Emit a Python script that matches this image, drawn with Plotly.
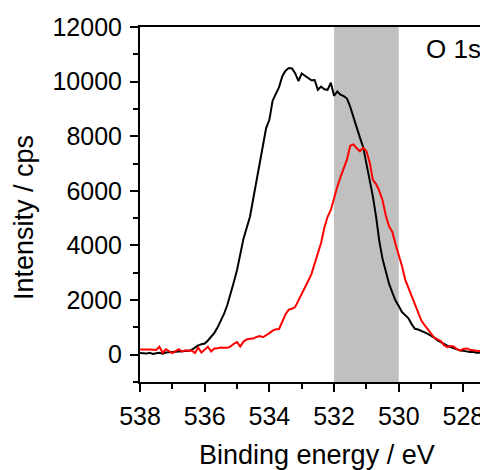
import numpy as np
import plotly.graph_objects as go

# Binding energy grid (eV), 0.1 eV step from 538.0 down to 527.3
E_START = 538.0
E_STEP = 0.1
N_POINTS = 108
energy = [round(E_START - E_STEP * i, 1) for i in range(N_POINTS)]

black_counts = [
    60, 60, 40, 70, 30, 50, 70, 40, 80, 90,
    100, 90, 110, 120, 130, 140, 180, 260, 340, 380,
    410, 520, 650, 800, 1000, 1250, 1500, 1820, 2200, 2650,
    3100, 3650, 4250, 4650, 5050, 5700, 6350, 7100, 7750, 8300,
    8600, 9300, 9550, 9800, 10200, 10400, 10500, 10480, 10300, 10020,
    10300, 10220, 10150, 10050, 10060, 9700, 9820, 9720, 9700, 9960,
    9480, 9640, 9520, 9470, 9380, 9080, 8700, 8300, 7950, 7600,
    7000, 6400, 5800, 5050, 4150, 3500, 3000, 2600, 2280, 1980,
    1780, 1560, 1450, 1330, 1120, 950, 920, 880, 820, 760,
    700, 620, 520, 450, 370, 330, 280, 230, 170, 150,
    140, 120, 100, 110, 70, 80, 40, 60,
]

red_counts = [
    190, 200, 190, 190, 180, 170, 290, 70, 200, 140,
    60, 130, 200, 110, 160, 140, 150, 60, 260, 80,
    180, 290, 120, 230, 240, 260, 250, 250, 300, 400,
    460, 300, 480, 560, 580, 590, 650, 680, 640, 700,
    790, 880, 930, 940, 1200, 1480, 1650, 1680, 1750, 1980,
    2200, 2420, 2700, 2950, 3320, 3650, 4100, 4650, 5050, 5300,
    5750, 6150, 6500, 6850, 7150, 7650, 7700, 7560, 7450, 7580,
    7460, 7050, 6400, 6250, 6000, 5650, 5100, 4700, 4500, 4050,
    3650, 3250, 2750, 2450, 2150, 1900, 1550, 1250, 1080, 920,
    760, 620, 560, 500, 350, 280, 320, 300, 200, 160,
    210, 230, 180, 170, 140, 130, 110, 100,
]

band = [532, 530]
x_ticks = [538, 536, 534, 532, 530, 528]
x_tick_text = ["538", "536", "534", "532", "530", "528"]
y_ticks = [0, 2000, 4000, 6000, 8000, 10000, 12000]
y_tick_text = ["0", "2000", "4000", "6000", "8000", "10000", "12000"]

FONT = "Liberation Sans, Arial, sans-serif"
FS_TICK = 25
FS_TITLE = 27

# page has an 8px body margin; figure is sized so the plot area lands at
# x 140..488, y 27..382 in the 488x470 window
OFF = 8
W, H = 488 - OFF, 470 - OFF
L, R, T = 140 - OFF, 0, 27 - OFF
B = H - T - (382 - 27)
pw, ph = W - L - R, H - T - B


def px_x(page_x):
    return (page_x - OFF - L) / pw


def px_y(page_y):
    return (H - B - (page_y - OFF)) / ph


fig = go.Figure()
fig.add_shape(type="rect", xref="x", yref="y domain", x0=band[0], x1=band[1],
              y0=0, y1=1, fillcolor="#c0c0c0", line_width=0, layer="below")
fig.add_trace(go.Scatter(x=energy, y=black_counts, mode="lines",
                         line=dict(color="black", width=2), showlegend=False))
fig.add_trace(go.Scatter(x=energy, y=red_counts, mode="lines",
                         line=dict(color="#ff0000", width=2), showlegend=False))

fig.add_annotation(text="O 1s", xref="paper", yref="paper", x=px_x(483), y=px_y(49),
                   xanchor="right", yanchor="middle", showarrow=False,
                   font=dict(size=26, color="black", family=FONT))

fig.add_annotation(text="Binding energy / eV", xref="paper", yref="paper",
                   x=px_x(317), y=px_y(455), xanchor="center", yanchor="middle",
                   showarrow=False, font=dict(size=FS_TITLE, color="black", family=FONT))
fig.add_annotation(text="Intensity / cps", xref="paper", yref="paper",
                   x=px_x(24), y=px_y(218), xanchor="center", yanchor="middle",
                   textangle=-90, showarrow=False, font=dict(size=FS_TITLE, color="black", family=FONT))

fig.update_layout(
    width=W, height=H,
    margin=dict(l=L, r=R, t=T, b=B, pad=0),
    paper_bgcolor="white", plot_bgcolor="white",
    font=dict(family=FONT, size=FS_TICK, color="black"),
    xaxis=dict(range=[538, 527.24], tickvals=x_ticks, ticktext=x_tick_text,
               showgrid=False, zeroline=False, automargin=False,
               showline=True, linecolor="black", linewidth=2, mirror=True,
               ticks="outside", ticklen=8, tickwidth=2, tickcolor="black",
               ticklabelstandoff=3,
               minor=dict(ticks="outside", ticklen=5, tickwidth=2, dtick=1, tickcolor="black")),
    yaxis=dict(range=[-1000, 12000], tickvals=y_ticks, ticktext=y_tick_text,
               showgrid=False, zeroline=False, automargin=False,
               showline=True, linecolor="black", linewidth=2,
               ticks="outside", ticklen=8, tickwidth=2, tickcolor="black",
               ticklabelstandoff=3,
               minor=dict(ticks="outside", ticklen=5, tickwidth=2, dtick=1000, tickcolor="black")),
)

fig.write_html("out.html")
